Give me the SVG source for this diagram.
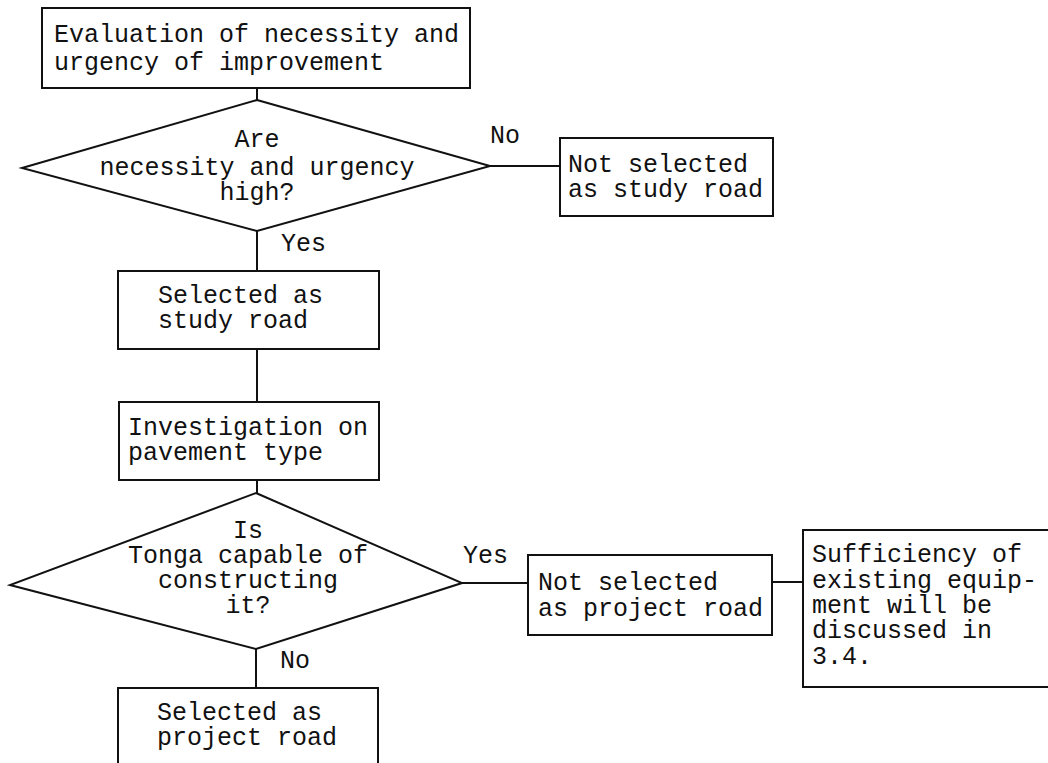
<svg xmlns="http://www.w3.org/2000/svg" width="1048" height="763" viewBox="0 0 1048 763">
<style>
.shape{fill:#fff;stroke:#111;stroke-width:2}
.conn{stroke:#111;stroke-width:2;fill:none}
text{font-family:"Liberation Mono","Courier New",monospace;font-size:25px;fill:#111}
</style>
<rect width="1048" height="763" fill="#fff"/>
<g id="connectors">
<line class="conn" x1="257" y1="88" x2="257" y2="100"/>
<line class="conn" x1="490" y1="166" x2="560" y2="166"/>
<line class="conn" x1="257" y1="231" x2="257" y2="271"/>
<line class="conn" x1="257" y1="349" x2="257" y2="402"/>
<line class="conn" x1="257" y1="480" x2="257" y2="493"/>
<line class="conn" x1="462" y1="583" x2="528" y2="583"/>
<line class="conn" x1="772" y1="582" x2="803" y2="582"/>
<line class="conn" x1="256" y1="649" x2="256" y2="688"/>
<text x="490" y="143">No</text>
<text x="281" y="251">Yes</text>
<text x="463" y="563">Yes</text>
<text x="280" y="668">No</text>
</g>
<g id="n1">
<rect class="shape" x="42" y="8" width="428" height="80"/>
<text x="54" y="42">Evaluation of necessity and</text>
<text x="54" y="70">urgency of improvement</text>
</g>
<g id="d1">
<polygon class="shape" points="257,100 490,166 257,231 22,168"/>
<text x="257" y="147" text-anchor="middle">Are</text>
<text x="257" y="175" text-anchor="middle">necessity and urgency</text>
<text x="257" y="200" text-anchor="middle">high?</text>
</g>
<g id="n2">
<rect class="shape" x="560" y="138" width="213" height="78"/>
<text x="568" y="172">Not selected</text>
<text x="568" y="197">as study road</text>
</g>
<g id="n3">
<rect class="shape" x="118" y="271" width="261" height="78"/>
<text x="158" y="303">Selected as</text>
<text x="158" y="328">study road</text>
</g>
<g id="n4">
<rect class="shape" x="119" y="402" width="260" height="78"/>
<text x="128" y="435">Investigation on</text>
<text x="128" y="460">pavement type</text>
</g>
<g id="d2">
<polygon class="shape" points="256,493 462,583 256,649 10,585"/>
<text x="248" y="538" text-anchor="middle">Is</text>
<text x="248" y="563" text-anchor="middle">Tonga capable of</text>
<text x="248" y="588" text-anchor="middle">constructing</text>
<text x="248" y="613" text-anchor="middle">it?</text>
</g>
<g id="n5">
<rect class="shape" x="528" y="555" width="244" height="80"/>
<text x="538" y="590">Not selected</text>
<text x="538" y="616">as project road</text>
</g>
<g id="n6">
<rect class="shape" x="803" y="530" width="260" height="157"/>
<text x="812" y="562">Sufficiency of</text>
<text x="812" y="588">existing equip-</text>
<text x="812" y="613">ment will be</text>
<text x="812" y="638">discussed in</text>
<text x="812" y="664">3.4.</text>
</g>
<g id="n7">
<rect class="shape" x="118" y="688" width="260" height="90"/>
<text x="157" y="720">Selected as</text>
<text x="157" y="745">project road</text>
</g>
</svg>
